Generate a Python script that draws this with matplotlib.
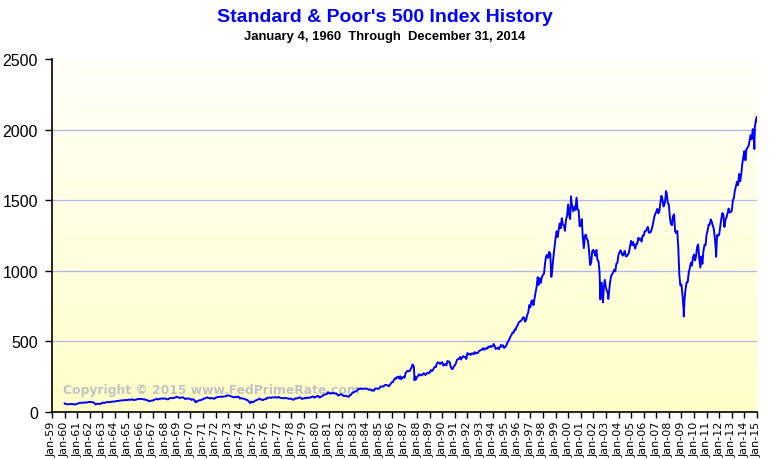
import numpy as np
import pandas as pd
import matplotlib
matplotlib.use("Agg")
import matplotlib.pyplot as plt
import matplotlib.dates as mdates

# S&P 500 month-end closes, Jan 1960 .. Dec 2014 (12 per row = one year)
monthly_close = [
    55.61, 56.12, 55.34, 54.37, 55.83, 56.92, 55.51, 56.96, 53.52, 53.39, 55.54, 58.11,
    61.78, 63.44, 65.06, 65.31, 66.56, 64.64, 66.76, 68.07, 66.73, 68.62, 71.32, 71.55,
    68.84, 69.96, 69.55, 65.24, 59.63, 54.75, 58.23, 59.12, 56.27, 56.52, 62.26, 63.10,
    66.20, 64.29, 66.57, 69.80, 70.80, 69.37, 69.13, 72.50, 71.70, 74.01, 73.23, 75.02,
    77.04, 77.80, 78.98, 79.46, 80.37, 81.69, 83.18, 81.83, 84.18, 84.86, 84.42, 84.75,
    87.56, 87.43, 86.16, 89.11, 88.42, 84.12, 85.25, 87.17, 89.96, 92.42, 91.61, 92.43,
    92.88, 91.22, 89.23, 91.06, 86.13, 84.74, 83.60, 77.10, 76.56, 80.20, 80.45, 80.33,
    86.61, 86.78, 90.20, 94.01, 89.08, 90.64, 94.75, 93.64, 96.71, 93.90, 94.00, 96.47,
    92.24, 89.36, 90.20, 97.59, 98.68, 99.58, 97.74, 98.86, 102.67, 103.41, 108.37, 103.86,
    103.01, 98.13, 101.51, 103.69, 103.46, 97.71, 91.83, 95.51, 93.12, 97.24, 93.81, 92.06,
    85.02, 89.50, 89.63, 81.52, 76.55, 72.72, 78.05, 81.52, 84.21, 83.25, 87.20, 92.15,
    95.88, 96.75, 100.31, 103.95, 99.63, 98.70, 95.58, 99.03, 98.34, 94.23, 93.99, 102.09,
    103.94, 106.57, 107.20, 107.67, 109.53, 107.14, 107.39, 111.09, 110.55, 111.58, 116.67, 118.05,
    116.03, 111.68, 111.52, 106.97, 104.95, 104.26, 108.22, 104.25, 108.43, 108.29, 95.96, 97.55,
    96.57, 96.22, 93.98, 90.31, 87.28, 86.00, 79.31, 72.15, 63.54, 73.90, 69.97, 68.56,
    76.98, 81.59, 83.36, 87.30, 91.15, 95.19, 88.75, 86.88, 83.87, 89.04, 91.24, 90.19,
    100.86, 99.71, 102.77, 101.64, 100.18, 104.28, 103.44, 102.91, 105.24, 102.90, 102.10, 107.46,
    102.03, 99.82, 98.42, 98.44, 96.12, 100.48, 98.85, 96.77, 96.53, 92.34, 94.83, 95.10,
    89.25, 87.04, 89.21, 96.83, 97.24, 95.53, 100.68, 103.29, 102.54, 93.15, 94.70, 96.11,
    99.93, 96.28, 101.59, 101.76, 99.08, 102.91, 103.81, 109.32, 109.32, 101.82, 106.16, 107.94,
    114.16, 113.66, 102.09, 106.29, 111.24, 114.24, 121.67, 122.38, 125.46, 127.47, 140.52, 135.76,
    129.55, 131.27, 136.00, 132.81, 132.59, 131.21, 130.92, 122.79, 116.18, 121.89, 126.35, 122.55,
    120.40, 113.11, 111.96, 116.44, 111.88, 109.61, 107.09, 119.51, 120.42, 133.71, 138.54, 140.64,
    145.30, 148.06, 152.96, 164.42, 162.39, 168.11, 162.56, 164.40, 166.07, 163.55, 166.40, 164.93,
    163.41, 157.06, 159.18, 160.05, 150.55, 153.18, 150.66, 166.68, 166.10, 166.09, 163.58, 167.24,
    179.63, 181.18, 180.66, 179.83, 189.55, 191.85, 190.92, 188.63, 182.08, 189.82, 202.17, 211.28,
    211.78, 226.92, 238.90, 235.52, 247.35, 250.84, 236.12, 252.93, 231.32, 243.98, 249.22, 242.17,
    274.08, 284.20, 291.70, 288.36, 290.10, 304.00, 318.66, 329.80, 321.83, 251.79, 230.30, 247.08,
    257.07, 267.82, 258.89, 261.33, 262.16, 273.50, 272.02, 261.52, 271.91, 278.97, 273.70, 277.72,
    297.47, 288.86, 294.87, 309.64, 320.52, 317.98, 346.08, 351.45, 349.15, 340.36, 345.99, 353.40,
    329.08, 331.89, 339.94, 330.80, 361.23, 358.02, 356.15, 322.56, 306.05, 304.00, 322.22, 330.22,
    343.93, 367.07, 375.22, 375.35, 389.83, 371.16, 387.81, 395.43, 387.86, 392.45, 375.22, 417.09,
    408.79, 412.70, 403.69, 414.95, 415.35, 408.14, 424.21, 414.03, 417.80, 418.68, 431.35, 435.71,
    438.78, 443.38, 451.67, 440.19, 450.19, 450.53, 448.13, 463.56, 458.93, 467.83, 461.79, 466.45,
    481.61, 467.14, 445.77, 450.91, 456.50, 444.27, 458.26, 475.49, 462.69, 472.35, 453.69, 459.27,
    470.42, 487.39, 500.71, 514.71, 533.40, 544.75, 562.06, 561.88, 584.41, 581.50, 605.37, 615.93,
    636.02, 640.43, 645.50, 654.17, 669.12, 670.63, 639.95, 651.99, 687.33, 705.27, 757.02, 740.74,
    786.16, 790.82, 757.12, 801.34, 848.28, 885.14, 954.29, 899.47, 947.28, 914.62, 955.40, 970.43,
    980.28, 1049.34, 1101.75, 1111.75, 1090.82, 1133.84, 1120.67, 957.28, 1017.01, 1098.67, 1163.63, 1229.23,
    1279.64, 1238.33, 1286.37, 1335.18, 1301.84, 1372.71, 1328.72, 1320.41, 1282.71, 1362.93, 1388.91, 1469.25,
    1394.46, 1366.42, 1498.58, 1452.43, 1420.60, 1454.60, 1430.83, 1517.68, 1436.51, 1429.40, 1314.95, 1320.28,
    1366.01, 1239.94, 1160.33, 1249.46, 1255.82, 1224.38, 1211.23, 1133.58, 1040.94, 1059.78, 1139.45, 1148.08,
    1130.20, 1106.73, 1147.39, 1076.92, 1067.14, 989.82, 911.62, 916.07, 815.28, 885.76, 936.31, 879.82,
    855.70, 841.15, 848.18, 916.92, 963.59, 974.50, 990.31, 1008.01, 995.97, 1050.71, 1058.20, 1111.92,
    1131.13, 1144.94, 1126.21, 1107.30, 1120.68, 1140.84, 1101.72, 1104.24, 1114.58, 1130.20, 1173.82, 1211.92,
    1181.27, 1203.60, 1180.59, 1156.85, 1191.50, 1191.33, 1234.18, 1220.33, 1228.81, 1207.01, 1249.48, 1248.29,
    1280.08, 1280.66, 1294.87, 1310.61, 1270.09, 1270.20, 1276.66, 1303.82, 1335.85, 1377.94, 1400.63, 1418.30,
    1438.24, 1406.82, 1420.86, 1482.37, 1530.62, 1503.35, 1455.27, 1473.99, 1526.75, 1549.38, 1481.14, 1468.36,
    1378.55, 1330.63, 1322.70, 1385.59, 1400.38, 1280.00, 1267.38, 1282.83, 1166.36, 968.75, 896.24, 903.25,
    825.88, 735.09, 797.87, 872.81, 919.14, 919.32, 987.48, 1020.62, 1057.08, 1036.19, 1095.63, 1115.10,
    1073.87, 1104.49, 1169.43, 1186.69, 1089.41, 1030.71, 1101.60, 1049.33, 1141.20, 1183.26, 1180.55, 1257.64,
    1286.12, 1327.22, 1325.83, 1363.61, 1345.20, 1320.64, 1292.28, 1218.89, 1131.42, 1253.30, 1246.96, 1257.60,
    1312.41, 1365.68, 1408.47, 1397.91, 1310.33, 1362.16, 1379.32, 1406.58, 1440.67, 1412.16, 1416.18, 1426.19,
    1498.11, 1514.68, 1569.19, 1597.57, 1630.74, 1606.28, 1685.73, 1632.97, 1681.55, 1756.54, 1805.81, 1848.36,
    1782.59, 1859.45, 1872.34, 1883.95, 1923.57, 1960.23, 1930.67, 2003.37, 1972.29, 2018.05, 2067.56, 2058.90,
]

# daily extremes visible on the chart
extreme_dates = ["1960-01-04", "1962-06-26", "1970-05-26", "1974-10-03", "1987-08-25",
                 "1987-10-19", "2000-03-24", "2002-07-23", "2002-10-09", "2003-03-11",
                 "2007-10-09", "2009-03-09", "2010-07-02", "2011-10-03", "2014-10-15",
                 "2014-12-29"]
extreme_values = [60.39, 52.32, 69.29, 62.28, 336.77,
                  224.84, 1527.46, 797.70, 776.76, 800.73,
                  1565.15, 676.53, 1022.58, 1099.23, 1862.49,
                  2090.57]

tick_years = list(range(1959, 2016))
y_ticks = [0, 500, 1000, 1500, 2000, 2500]
grid_levels = [500, 1000, 1500, 2000]

title = "Standard & Poor's 500 Index History"
subtitle = "January 4, 1960  Through  December 31, 2014"
copyright_text = "Copyright \u00a9 2015 www.FedPrimeRate.com"

month_ends = pd.date_range("1960-01-31", periods=len(monthly_close), freq="ME")
sp = pd.concat([pd.Series(monthly_close, index=month_ends),
                pd.Series(extreme_values, index=pd.to_datetime(extreme_dates))]).sort_index()

fig = plt.figure(figsize=(7.75, 4.6), dpi=100, facecolor="white")
ax = fig.add_axes([52 / 775, 1 - 413 / 460, 705 / 775, 353 / 460])

# white-to-yellow background
grad = np.linspace(1, 0, 256).reshape(-1, 1)
cmap = matplotlib.colors.LinearSegmentedColormap.from_list("bg", ["#FFFFC8", "#FFFFFA"])
ax.imshow(grad, extent=[0, 1, 0, 1], transform=ax.transAxes, cmap=cmap,
          aspect="auto", zorder=0, origin="upper")

for lv in grid_levels:
    ax.axhline(lv, color="#B4B4F0", lw=0.9, zorder=1)

ax.plot(sp.index, sp.values, color="#0000FF", lw=1.4, zorder=3)

ax.text(0.016, 156, copyright_text, transform=ax.get_yaxis_transform(),
        fontsize=8.9, fontweight="bold", color="#C2C2C2", family="DejaVu Sans",
        va="center", ha="left", zorder=2)

ax.set_ylim(0, 2500)
ax.set_xlim(pd.Timestamp("1959-01-01"), pd.Timestamp("2015-01-01"))
ax.set_yticks(y_ticks)
ax.set_yticklabels([str(v) for v in y_ticks], fontsize=11.5, family="Liberation Sans")
ax.set_xticks([pd.Timestamp(f"{y}-01-01") for y in tick_years])
ax.xaxis.set_major_formatter(mdates.DateFormatter("%b-%y"))
plt.setp(ax.get_xticklabels(), rotation=90, fontsize=8, family="DejaVu Sans")
ax.tick_params(axis="y", length=5, width=1, pad=5, direction="out")
ax.tick_params(axis="x", length=4, width=1, pad=2, direction="out")

for s in ["top", "right"]:
    ax.spines[s].set_visible(False)
for s in ["left", "bottom"]:
    ax.spines[s].set_color("black")
    ax.spines[s].set_linewidth(1.2)

fig.text(0.497, 0.963, title, ha="center", va="center", color="#0000FF",
         fontsize=14, fontweight="bold", family="Liberation Sans")
fig.text(0.497, 0.919, subtitle, ha="center", va="center", color="black",
         fontsize=9.4, fontweight="bold", family="Liberation Sans")

fig.savefig("out.png", dpi=100)
